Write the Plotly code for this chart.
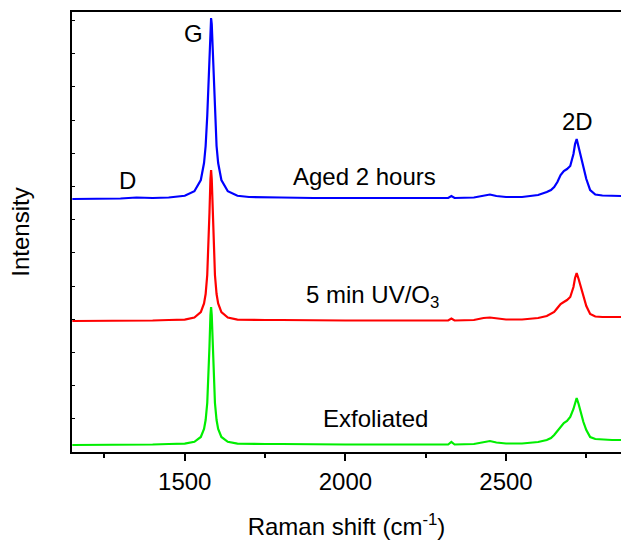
import plotly.graph_objects as go

# Raman shift grid (cm^-1)
shift = [1150, 1200, 1250, 1300, 1350, 1400, 1450, 1500, 1530, 1550, 1560, 1565, 1570, 1574,
         1577, 1580, 1582, 1584, 1587, 1590, 1594, 1599, 1604, 1614, 1634, 1664, 1700,
         1750, 1800, 1900, 2000, 2100, 2200, 2300, 2320, 2330, 2340, 2400, 2430, 2450,
         2470, 2500, 2550, 2600, 2627, 2640, 2650, 2660, 2670, 2680, 2690, 2700, 2710,
         2715, 2720, 2726, 2735, 2741, 2750, 2762, 2778, 2800, 2830, 2858]

# Intensities above each spectrum's own baseline (a.u.)
aged = [0, 0, 0.5, 0.5, 1.5, 1, 1.5, 3.2, 7.8, 19, 36, 53, 83, 118,
        150, 175, 181, 175, 150, 118, 83, 53, 36, 19, 7.8, 3.2, 2,
        2, 1.5, 1, 1, 1, 1, 1, 1, 3, 1, 1.5, 3.5, 4.5,
        3, 2, 2, 4, 7, 9, 12, 17, 24, 28, 30, 33, 45,
        55, 60, 52, 40, 32, 20, 9, 4.5, 3.5, 3.5, 3]

uvo3 = [0, 0, 0, 0.5, 0.5, 0.5, 1, 1.4, 3.5, 8.9, 17.6, 27, 46, 75,
        109, 142, 151, 142, 109, 75, 46, 27, 17.6, 8.9, 3.5, 1.4, 1,
        1, 1, 0.5, 0.5, 0.5, 0.5, 0.5, 0.5, 2.5, 0.5, 1, 3, 3.5,
        2.5, 1.5, 1.5, 3, 5, 7, 9, 13, 17, 19, 21, 24, 34,
        43, 48, 42, 31, 24, 15, 7, 4.5, 4, 4, 4]

exfol = [0, 0, 0, 0, 0.5, 0.5, 1, 1.3, 3.2, 8, 16, 25, 42, 69,
         99, 130, 138, 130, 99, 69, 42, 25, 16, 8, 3.2, 1.3, 1,
         1, 1, 0.5, 0.5, 0.5, 0.5, 0.5, 0.5, 3, 0.5, 1, 3, 4,
         2.5, 1.5, 1.5, 3, 5, 7, 10, 14, 19, 22, 24, 28, 36,
         42, 47, 41, 30, 23, 15, 8, 6, 5.5, 5, 5]

# vertical offsets for stacking
offsets = {"Exfoliated": 7, "5 min UV/O3": 131, "Aged 2 hours": 253}

series = [
    ("Aged 2 hours", aged, "#0000ff"),
    ("5 min UV/O3", uvo3, "#ff0000"),
    ("Exfoliated", exfol, "#00ee00"),
]

fig = go.Figure()
for name, vals, col in series:
    off = offsets[name]
    fig.add_trace(go.Scatter(x=shift, y=[v + off for v in vals], mode="lines",
                             line=dict(color=col, width=2.2), name=name,
                             showlegend=False))

font = "Arial, 'Liberation Sans', sans-serif"
ann = [
    (1526, 419, "G"),
    (1322, 272, "D"),
    (2724, 331, "2D"),
    (2061, 276, "Aged 2 hours"),
    (2083, 156, "5 min UV/O<sub>3</sub>"),
    (2093, 34, "Exfoliated"),
]
for x, y, t in ann:
    fig.add_annotation(x=x, y=y, text=t, showarrow=False,
                       font=dict(size=24, color="black", family=font))

fig.update_layout(
    width=621, height=540,
    margin=dict(l=72, r=0, t=12, b=88),
    paper_bgcolor="white", plot_bgcolor="white",
    font=dict(family=font, size=24, color="black"),
)
fig.update_xaxes(
    range=[1149, 2858], showgrid=False, zeroline=False,
    showline=True, linecolor="black", linewidth=1.5, mirror=True,
    tickmode="array", tickvals=[1500, 2000, 2500],
    ticks="outside", ticklen=7, tickwidth=1.5, tickcolor="black",
    tickfont=dict(size=24),
    minor=dict(tickvals=[1250, 1750, 2250, 2750], ticks="outside", ticklen=4,
               tickwidth=1.5, tickcolor="black"),
    title=dict(text="Raman shift (cm<sup>-1</sup>)", font=dict(size=24), standoff=26),
)
fig.update_yaxes(
    range=[0, 440], showgrid=False, zeroline=False,
    showline=True, linecolor="black", linewidth=1.5,
    tick0=0, dtick=33.2, ticks="inside", ticklen=3, tickwidth=1.2, tickcolor="black",
    showticklabels=False,
    title=dict(text="Intensity", font=dict(size=24), standoff=34),
)

fig.write_html("out.html")
